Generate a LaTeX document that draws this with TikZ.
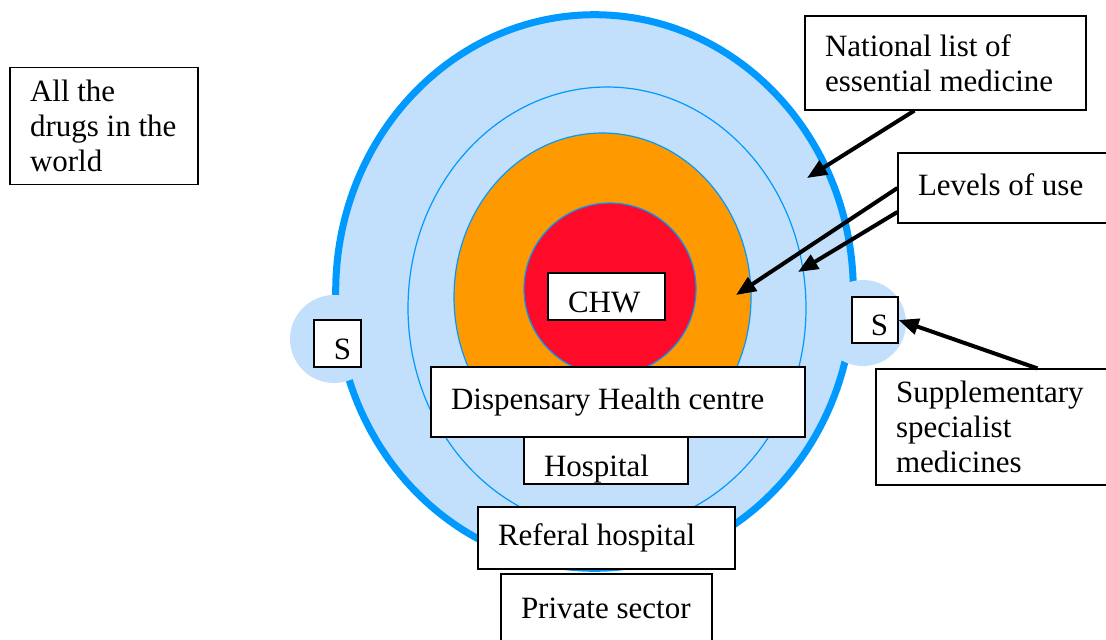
\documentclass[tikz,border=0pt]{standalone}
\usepackage{fontspec}
\setmainfont{Liberation Serif}
\usetikzlibrary{arrows.meta}
\definecolor{paleblue}{RGB}{194,224,252}
\definecolor{ringblue}{RGB}{0,153,255}
\definecolor{midorange}{RGB}{255,153,0}
\definecolor{corered}{RGB}{255,10,40}
\tikzstyle{r} = [rectangle, draw=black, fill=white, line width=0.6pt, align=flush left, inner xsep=10pt, inner ysep=0pt, font=\fontsize{15.5}{17.5}\selectfont]
\tikzstyle{low} = [text height=15.5pt, text depth=0pt]
\tikzstyle{ring} = [draw=ringblue, line width=0.6pt]
\tikzstyle{pointer} = [-{Triangle[length=10pt,width=8pt]}, line width=2pt]

\begin{document}
\begin{tikzpicture}[x=0.5pt, y=-0.5pt]
	\useasboundingbox (0,0) rectangle (1106,639);
	\clip (0,0) rectangle (1106,639);

	% levels of the list
	\filldraw[fill=paleblue, draw=ringblue, line width=3.5pt] (594.5,291.5) ellipse [x radius=258.8, y radius=276.8];
	\filldraw[ring, fill=paleblue] (607,308) ellipse [x radius=199, y radius=221];
	\filldraw[ring, fill=midorange] (602.5,297) ellipse [x radius=148.5, y radius=164];
	\filldraw[ring, fill=corered] (610,289) circle [radius=86];
	\fill[paleblue] (334,339) circle [radius=44];
	\fill[paleblue] (863,323) circle [radius=43];

	\node[r, minimum width=94pt, minimum height=58.5pt, text width=74pt](world) at (104,126){All the\\drugs in the\\world};
	\node[r, minimum width=140.5pt, minimum height=47pt, text width=120.5pt](national) at (945.5,63){National list of\\essential medicine};
	\node[r, minimum width=108.5pt, minimum height=35pt, text width=88.5pt, text depth=3.4pt](levels) at (1006.5,188){Levels of use};
	\node[r, minimum width=119.5pt, minimum height=58pt, text width=99.5pt](supp) at (995.5,427){Supplementary\\specialist\\medicines};
	\node[r, low, minimum width=58.5pt, minimum height=23.5pt, text width=38.5pt](chw) at (606.5,296.5){CHW};
	\node[r, minimum width=187pt, minimum height=35pt, text width=167pt](disp) at (618,402){Dispensary Health centre};
	\node[r, low, minimum width=82pt, minimum height=23.5pt, text width=62pt](hosp) at (606,460.5){Hospital};
	\node[r, minimum width=128.5pt, minimum height=31pt, text width=108.5pt](referal) at (606.5,538){Referal hospital};
	\node[r, minimum width=105.5pt, minimum height=34pt, text width=85.5pt](private) at (606.5,608){Private sector};
	\node[r, low, align=flush right, inner xsep=5pt, minimum width=23.5pt, minimum height=23.5pt, text width=13.5pt](sleft) at (337.5,343.5){S};
	\node[r, low, align=flush right, inner xsep=5pt, minimum width=23pt, minimum height=23pt, text width=13pt](sright) at (875,320){S};

	\coordinate (natTip) at (807,178);
	\coordinate (orangeTip) at (736,295);
	\coordinate (ringTip) at (798,272);

	\draw[pointer]([xshift=55pt]national.south west)--(natTip);
	\draw[pointer](levels.west)--(orangeTip);
	\draw[pointer]([yshift=-12pt]levels.west)--(ringTip);
	\draw[pointer]([xshift=81pt]supp.north west)--(sright.east);
\end{tikzpicture}
\end{document}
